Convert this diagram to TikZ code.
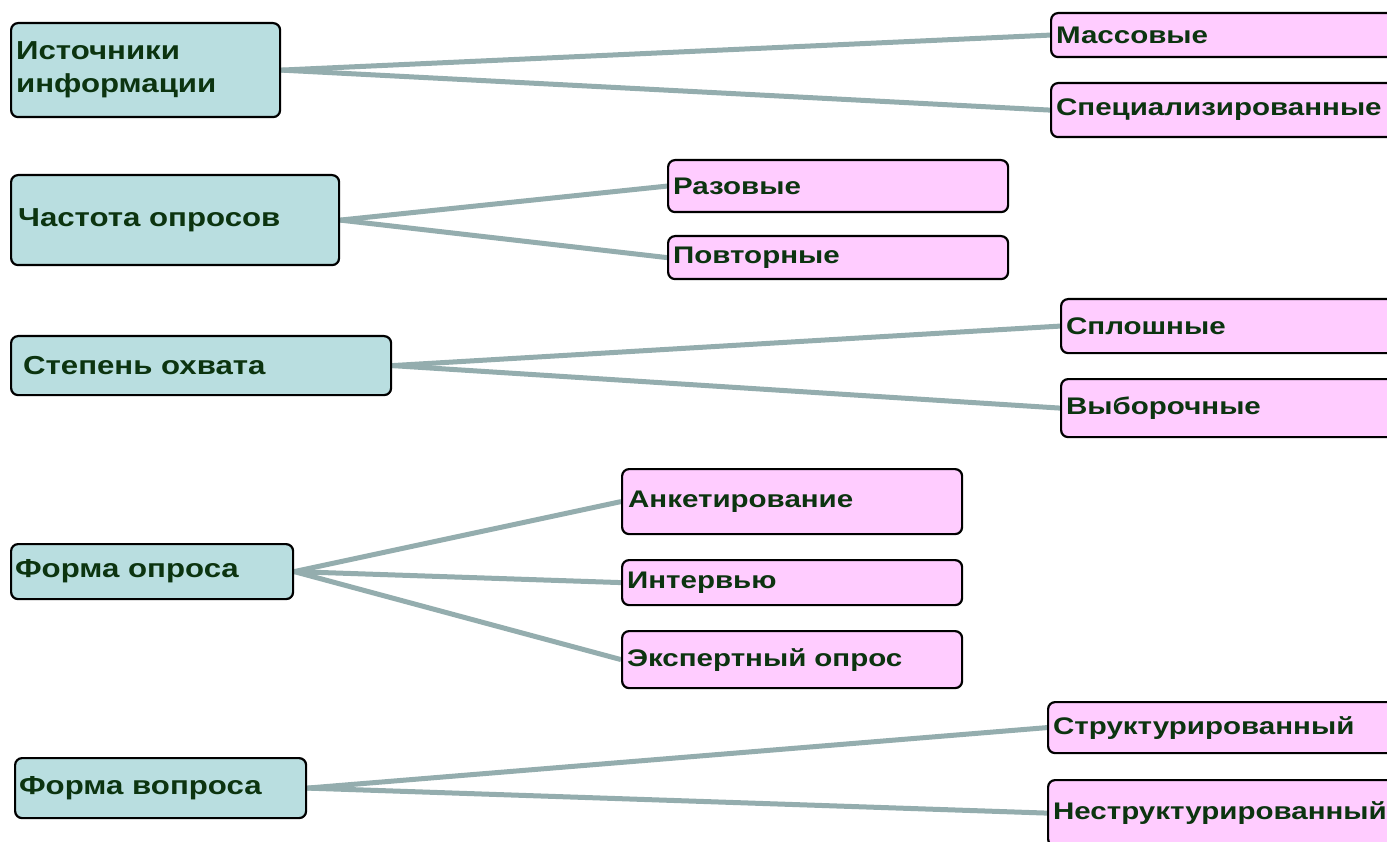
\documentclass[tikz,border=0pt]{standalone}
\usepackage{fontspec}
\newfontfamily\lblfont[FakeStretch=1.2]{Liberation Sans}
\newfontfamily\itemfont[FakeStretch=1.23]{Liberation Sans}
\definecolor{boxteal}{RGB}{185,222,224}
\definecolor{boxpink}{RGB}{255,204,255}
\definecolor{txtgreen}{RGB}{12,52,16}
\definecolor{linkcol}{RGB}{148,173,174}
\pgfdeclarelayer{back}
\pgfdeclarelayer{bg}
\pgfsetlayers{back,bg,main}
\tikzset{
  base/.style={draw=black, line width=2.2pt, rounded corners=7pt, anchor=north west,
    text=txtgreen, align=left, inner ysep=0pt},
  cat/.style={base, fill=boxteal, font=\lblfont\bfseries\fontsize{26}{33}\selectfont},
  item/.style={base, fill=boxpink, font=\itemfont\bfseries\fontsize{24}{28}\selectfont},
  link/.style={draw=linkcol, line width=5pt}
}
\newcommand{\bx}[8]{% name, style, x, y, w, h, xsep, text
  \node[#2, inner xsep=#7pt, text width=#5pt-2*#7pt, minimum height=#6pt] (#1) at (#3,#4) {#8};}
\begin{document}
\begin{tikzpicture}[x=1pt,y=-1pt]
\clip (0,0) rectangle (1387,842);
\begin{pgfonlayer}{back}
\fill[white] (0,0) rectangle (1387,842);
\end{pgfonlayer}
% categories
\bx{c1}{cat}{10}{22}{269}{94}{5}{Источники\\информации}
\bx{c2}{cat}{10}{174}{328}{90}{7}{Частота опросов}
\bx{c3}{cat}{10}{335}{380}{59}{12}{Степень охвата}
\bx{c4}{cat}{10}{543}{282}{55}{4}{Форма опроса}
\bx{c5}{cat}{14}{757}{291}{60}{4}{Форма вопроса}
% items
\bx{i1}{item}{1050}{12}{360}{44}{5}{Массовые}
\bx{i2}{item}{1050}{82}{360}{54}{5}{Специализированные}
\bx{i3}{item}{667}{159}{340}{52}{5}{Разовые}
\bx{i4}{item}{667}{235}{340}{43}{5}{Повторные}
\bx{i5}{item}{1060}{298}{360}{54}{5}{Сплошные}
\bx{i6}{item}{1060}{378}{360}{58}{5}{Выборочные}
\bx{i7}{item}{621}{468}{340}{65}{6}{Анкетирование}
\bx{i8}{item}{621}{559}{340}{45}{5}{Интервью}
\bx{i9}{item}{621}{630}{340}{57}{5}{Экспертный опрос}
\bx{i10}{item}{1047}{701}{360}{51}{5}{Структурированный}
\bx{i11}{item}{1047}{779}{360}{66}{5}{Неструктурированный}
\begin{pgfonlayer}{bg}
\draw[link] (c1.east) -- (i1.west);
\draw[link] (c1.east) -- (i2.west);
\draw[link] (c2.east) -- (i3.west);
\draw[link] (c2.east) -- (i4.west);
\draw[link] (c3.east) -- (i5.west);
\draw[link] (c3.east) -- (i6.west);
\draw[link] (c4.east) -- (i7.west);
\draw[link] (c4.east) -- (i8.west);
\draw[link] (c4.east) -- (i9.west);
\draw[link] (c5.east) -- (i10.west);
\draw[link] (c5.east) -- (i11.west);
\end{pgfonlayer}
\end{tikzpicture}
\end{document}
